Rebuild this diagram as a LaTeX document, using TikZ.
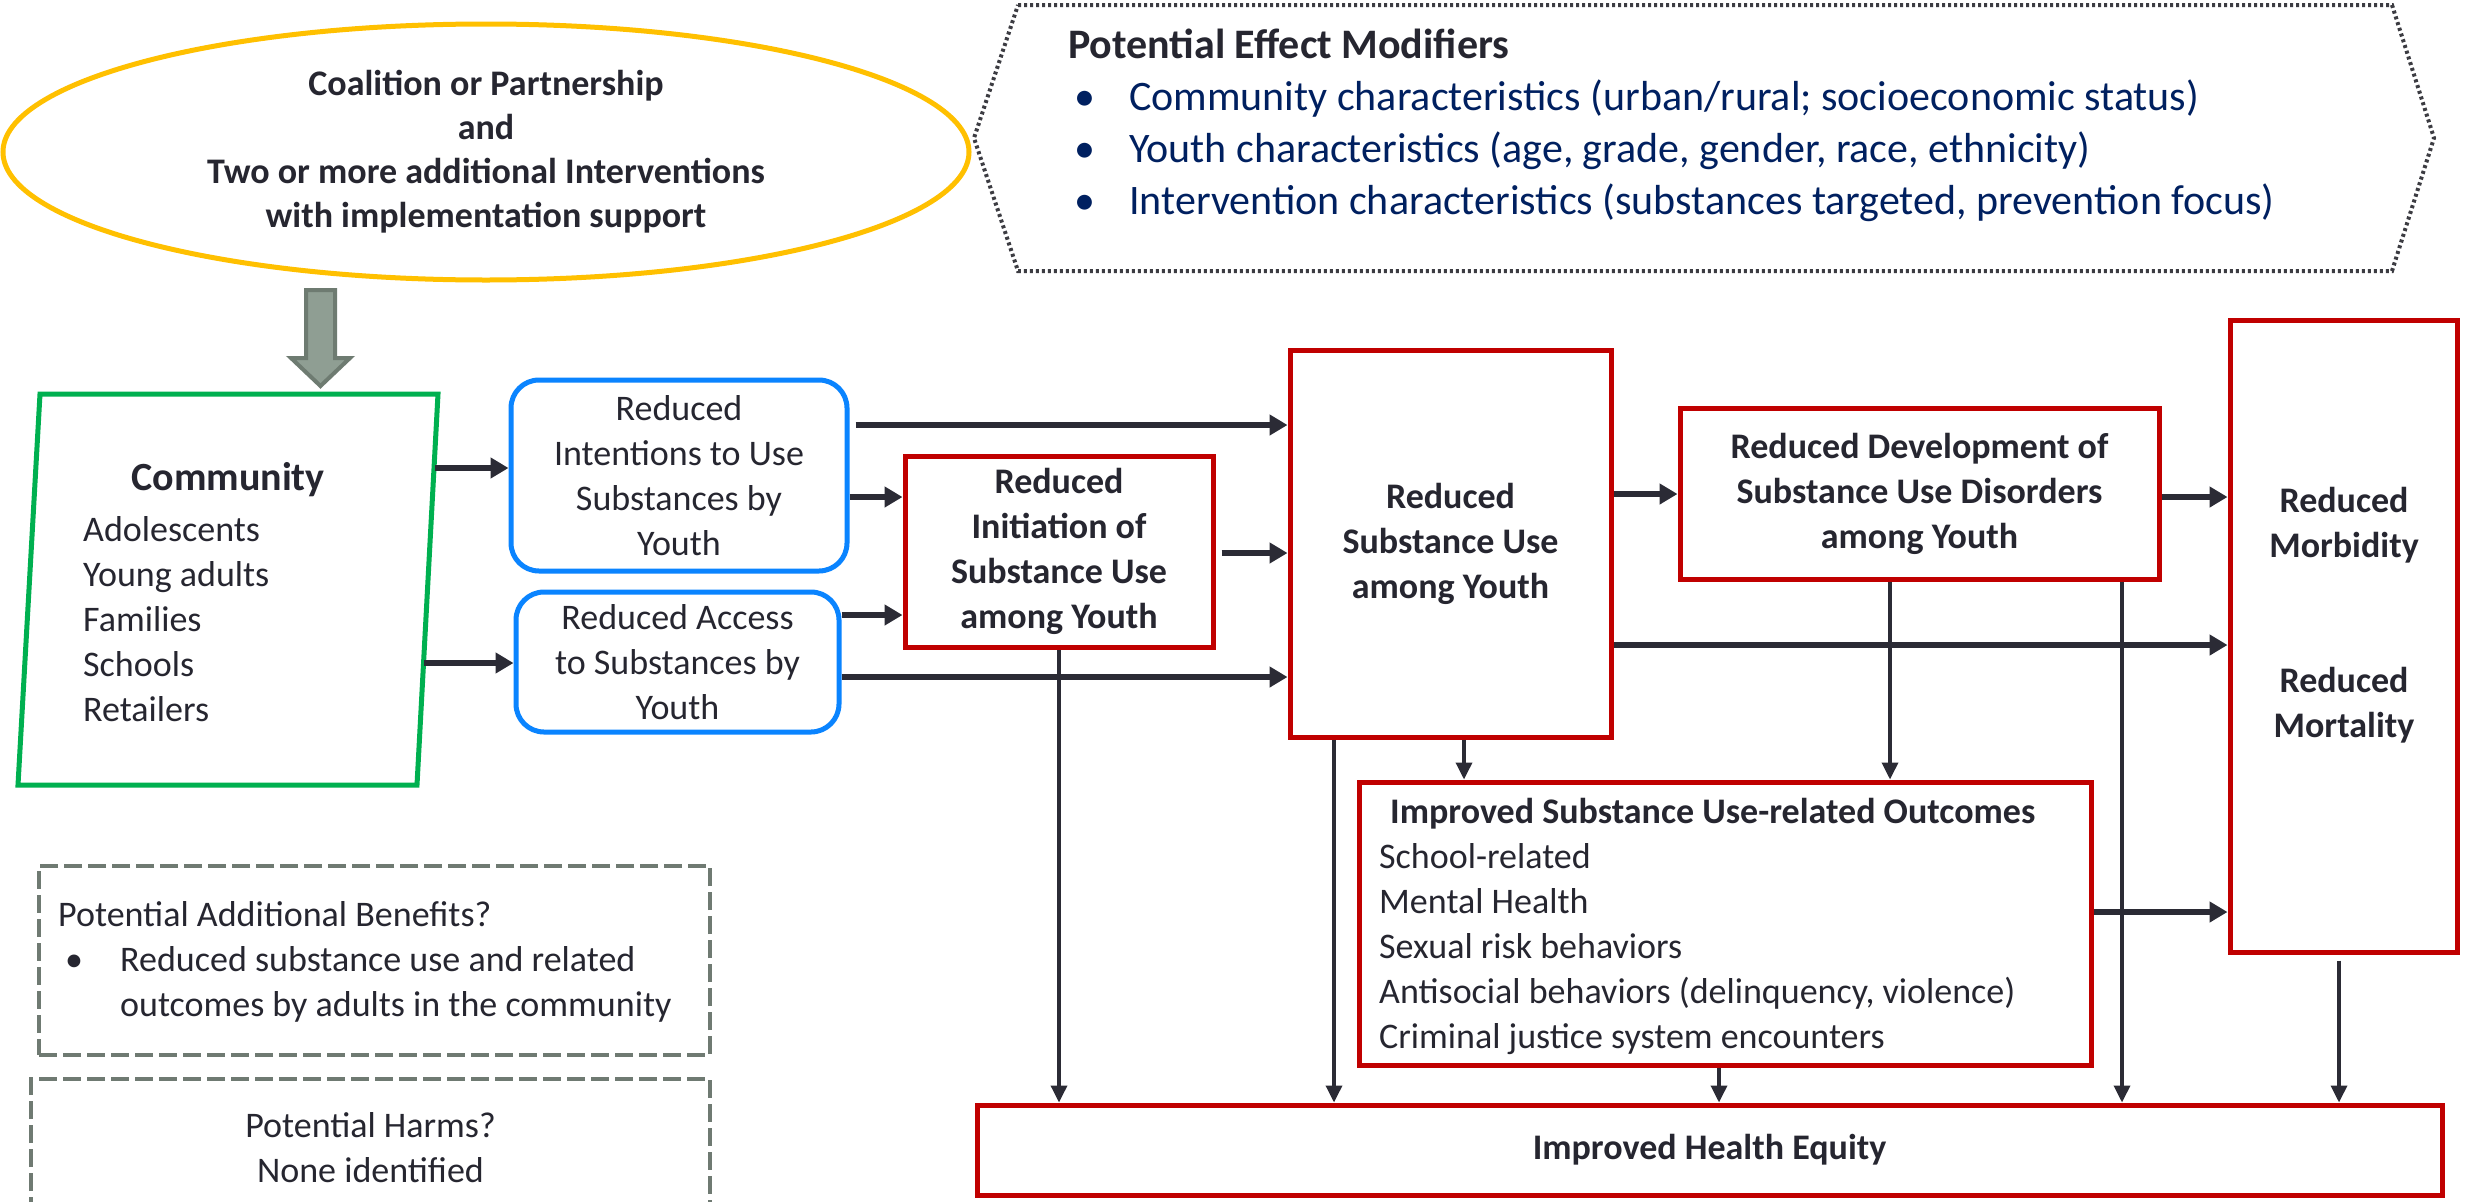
\documentclass[tikz,border=0pt]{standalone}
\usepackage{fontspec}
\setmainfont{Carlito}
\usetikzlibrary{arrows.meta,calc,shapes.geometric}
\definecolor{txt}{RGB}{38,38,48}
\definecolor{navy}{RGB}{0,32,96}
\definecolor{gold}{RGB}{255,192,0}
\definecolor{grn}{RGB}{0,176,80}
\definecolor{blu}{RGB}{10,132,255}
\definecolor{rd}{RGB}{192,0,0}
\definecolor{arrc}{RGB}{43,43,53}
\definecolor{grayarr}{RGB}{143,158,147}
\definecolor{grayarrb}{RGB}{110,123,113}
\definecolor{dashg}{RGB}{111,122,114}
\definecolor{dotg}{RGB}{60,60,66}
\newcommand\fa{\fontsize{36}{45}\selectfont}
\newcommand\fb{\fontsize{42}{52}\selectfont}
\newcommand\fc{\fontsize{40}{48}\selectfont}
\tikzset{
  box/.style={draw, line width=5pt, inner sep=0pt, align=center, text=txt},
  redbox/.style={box, draw=rd, font=\fa\bfseries},
  bluebox/.style={box, draw=blu, rounded corners=28pt, font=\fa},
  arr/.style={draw=arrc, line width=6pt, -{Triangle[length=18pt,width=20pt]}},
  varr/.style={draw=arrc, line width=3.5pt, -{Triangle[length=17pt,width=16pt]}},
  plain/.style={text=txt, inner sep=0pt}
}
\begin{document}
\begin{tikzpicture}[x=1pt,y=-1pt]
\useasboundingbox (0,0) rectangle (2471,1202);
\fill[white] (0,0) rectangle (2471,1202);

% coalition ellipse
\node[ellipse, draw=gold, line width=5pt, minimum width=966pt, minimum height=256pt, inner sep=0pt,
      align=center, text=txt, font=\fontsize{36}{44}\selectfont\bfseries] (coal) at (486,152)
  {Coalition or Partnership\\and\\Two or more additional Interventions\\with implementation support};

% effect modifiers hexagon
\draw[dotg, line width=4pt, dash pattern=on 3pt off 3pt]
  (1018,5) -- (2392,5) -- (2434,138) -- (2392,271) -- (1018,271) -- (974,138) -- cycle;
\node[plain, anchor=west, align=left, font=\fb] (mods) at (1068,125)
  {\textbf{Potential Effect Modifiers}\\
   \textcolor{navy}{\hspace*{6pt}\makebox[55pt][l]{•}Community characteristics (urban/rural; socioeconomic status)}\\
   \textcolor{navy}{\hspace*{6pt}\makebox[55pt][l]{•}Youth characteristics (age, grade, gender, race, ethnicity)}\\
   \textcolor{navy}{\hspace*{6pt}\makebox[55pt][l]{•}Intervention characteristics (substances targeted, prevention focus)}};

% gray block arrow
\draw[fill=grayarr, draw=grayarrb, line width=4pt, line join=miter]
  (306,290) -- (335,290) -- (335,358) -- (350,358) -- (320.5,386) -- (291,358) -- (306,358) -- cycle;

% community parallelogram
\coordinate (cTL) at (40,394);
\coordinate (cTR) at (438,394);
\coordinate (cBR) at (417,785);
\coordinate (cBL) at (18,785);
\draw[grn, line width=5pt] (cTL) -- (cTR) -- (cBR) -- (cBL) -- cycle;
\coordinate (cA) at (435,468);
\coordinate (cB) at (424,663);
\node[plain, font=\fc\bfseries] (commt) at (228,480) {Community};
\node[plain, anchor=west, align=left, font=\fa] (comml) at (83,619)
  {Adolescents\\Young adults\\Families\\Schools\\Retailers};

% blue boxes
\node[bluebox, minimum width=336pt, minimum height=191pt] (int) at (679,475.5)
  {Reduced\\Intentions to Use\\Substances by\\Youth};
\node[bluebox, minimum width=323pt, minimum height=140pt] (acc) at (677.5,662)
  {Reduced Access\\to Substances by\\Youth};

% red boxes
\node[redbox, minimum width=308pt, minimum height=191pt] (init) at (1059,551.5)
  {Reduced\\Initiation of\\Substance Use\\among Youth};
\node[redbox, minimum width=321pt, minimum height=387pt] (su) at (1450.5,543.5)
  {Reduced\\Substance Use\\among Youth};
\node[redbox, minimum width=479pt, minimum height=171pt] (dis) at (1919.5,493.5)
  {Reduced Development of\\Substance Use Disorders\\among Youth};
\node[redbox, minimum width=227pt, minimum height=632pt] (morb) at (2343.5,636) {};
\node[plain, align=center, font=\fa\bfseries] (morbt) at (2344,615)
  {Reduced\\Morbidity\\[90pt]Reduced\\Mortality};
\node[redbox, minimum width=732pt, minimum height=283pt] (outc) at (1725,923.5) {};
\node[plain, anchor=west, align=left, font=\fa] (outct) at (1379,926)
  {\hspace*{11pt}\textbf{Improved Substance Use-related Outcomes}\\School-related\\Mental Health\\Sexual risk behaviors\\Antisocial behaviors (delinquency, violence)\\Criminal justice system encounters};
\node[redbox, minimum width=1465pt, minimum height=90pt] (he) at (1709.5,1150) {Improved Health Equity};

% dashed side boxes
\node[draw=dashg, line width=4pt, dash pattern=on 18pt off 6pt, minimum width=671pt, minimum height=189pt, inner sep=0pt] (ben) at (374.5,960.5) {};
\node[plain, anchor=west, align=left, font=\fa] (bent) at (58,962)
  {Potential Additional Benefits?\\
   \hspace*{7pt}\makebox[55pt][l]{•}Reduced substance use and related\\
   \hspace*{62pt}outcomes by adults in the community};
\draw[dashg, line width=4pt, dash pattern=on 18pt off 6pt] (31,1215) -- (31,1079) -- (710,1079) -- (710,1215);
\node[plain, align=center, font=\fa] (harm) at (370.5,1148) {Potential Harms?\\None identified};

% connectors
\draw[arr] (cA) -- (cA -| int.west);
\draw[arr] (cB) -- (cB -| acc.west);
\draw[arr, shorten <=6pt] (int.east |- 0,425) -- (su.west |- 0,425);
\draw[arr] (int.east |- 0,497) -- (init.west |- 0,497);
\draw[arr] (acc.east |- 0,615) -- (init.west |- 0,615);
\draw[arr] (acc.east |- 0,677) -- (su.west |- 0,677);
\draw[arr, shorten <=6pt] (init.east |- 0,553) -- (su.west |- 0,553);
\draw[varr] (init.south) -- (init.south |- he.north);
\draw[arr] (su.east |- 0,494) -- (dis.west |- 0,494);
\draw[arr] (dis.east |- 0,497) -- (morb.west |- 0,497);
\draw[arr] (su.east |- 0,645) -- (morb.west |- 0,645);
\draw[varr] (su.south -| 1334,0) -- (he.north -| 1334,0);
\draw[varr] (su.south -| 1464,0) -- (outc.north -| 1464,0);
\draw[varr] (dis.south -| 1890,0) -- (outc.north -| 1890,0);
\draw[varr] (dis.south -| 2122,0) -- (he.north -| 2122,0);
\draw[arr] (outc.east |- 0,912) -- (morb.west |- 0,912);
\draw[varr] (outc.south -| 1719,0) -- (he.north -| 1719,0);
\draw[varr, shorten <=6pt] (morb.south -| 2339,0) -- (he.north -| 2339,0);
\end{tikzpicture}
\end{document}
